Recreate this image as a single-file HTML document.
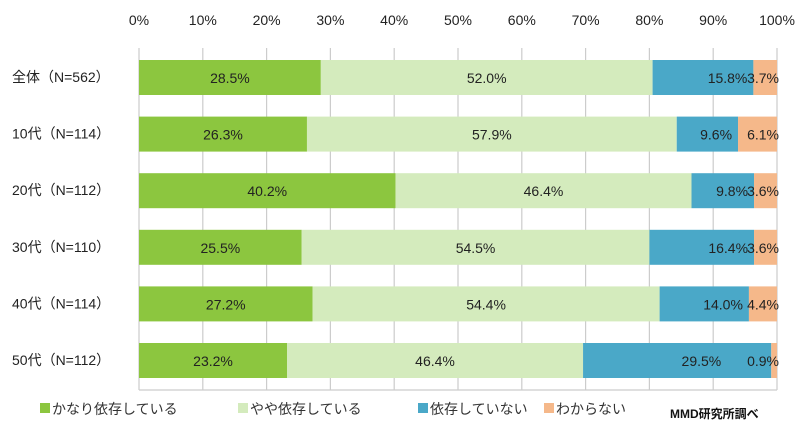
<!DOCTYPE html><html><head><meta charset="utf-8"><style>body{margin:0;background:#fff}svg text{font-family:"Liberation Sans","Noto Sans CJK JP",sans-serif}</style></head><body>
<svg width="800" height="435" viewBox="0 0 800 435">
<g id="grid" stroke="#ccc" stroke-width="1.2"></g>
<g id="bars"></g>
<g id="txt" font-size="14" fill="#222"></g>
<g font-size="14" fill="#333">
<rect x="40" y="403" width="10" height="10" fill="#8cc63f"/><text x="52" y="414">かなり依存している</text>
<rect x="238" y="403" width="10" height="10" fill="#d4ebbd"/><text x="250" y="414">やや依存している</text>
<rect x="418" y="403" width="10" height="10" fill="#4aa8c8"/><text x="430" y="414">依存していない</text>
<rect x="544" y="403" width="10" height="10" fill="#f5b88a"/><text x="556" y="414">わからない</text>
<text x="670" y="418" font-size="12" font-weight="bold" fill="#111">MMD研究所調べ</text>
</g>
</svg>
<script>
const x0=139,w=638,ns="http://www.w3.org/2000/svg";
function el(p,t,a,tx){const e=document.createElementNS(ns,t);for(const k in a)e.setAttribute(k,a[k]);if(tx)e.textContent=tx;document.getElementById(p).appendChild(e);}
for(let i=0;i<=10;i++){const x=x0+w*i/10;el("grid","line",{x1:x,x2:x,y1:48,y2:390});el("txt","text",{x:x,y:25,"text-anchor":"middle"},(i*10)+"%");}
el("grid","line",{x1:x0,x2:x0+w,y1:390,y2:390});
const rows=[["全体（N=562）",28.5,52.0,15.8,3.7],["10代（N=114）",26.3,57.9,9.6,6.1],["20代（N=112）",40.2,46.4,9.8,3.6],["30代（N=110）",25.5,54.5,16.4,3.6],["40代（N=114）",27.2,54.4,14.0,4.4],["50代（N=112）",23.2,46.4,29.5,0.9]];
const cols=["#8cc63f","#d4ebbd","#4aa8c8","#f5b88a"];
rows.forEach((r,i)=>{const y=60+i*56.6;el("txt","text",{x:12,y:y+22},r[0]);let s=0;const tot=r[1]+r[2]+r[3]+r[4];
for(let j=0;j<4;j++){const v=r[j+1];const xa=x0+w*s/tot,wd=w*v/tot;el("bars","rect",{x:xa,y:y,width:wd,height:35,fill:cols[j]});
let cx=xa+wd/2,anc="middle";if(j==3){cx=x0+w+2;anc="end";}if(j==2){cx=xa+wd-6;anc="end";if(i==5)cx=xa+wd-50;}
el("txt","text",{x:cx,y:y+23,"text-anchor":anc},v.toFixed(1)+"%");s+=v;}});
</script>
</body></html>
